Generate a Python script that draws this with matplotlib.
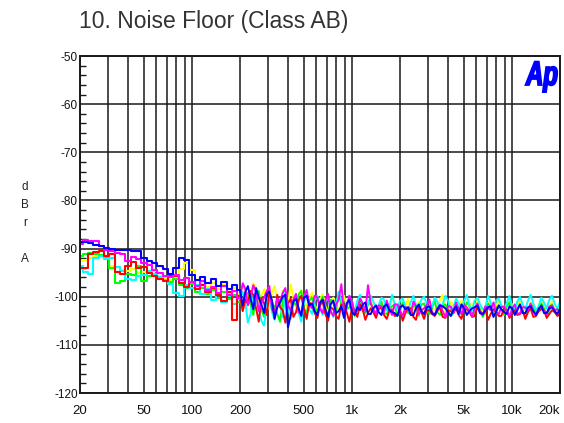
import matplotlib
matplotlib.use("Agg")
import matplotlib.pyplot as plt
from matplotlib.textpath import TextPath
from matplotlib.font_manager import FontProperties
from matplotlib.patches import PathPatch
from matplotlib.transforms import Affine2D

# ---------------- data ----------------
freq = [20, 21.6, 23.3, 25.2, 27.2, 29.4, 31.7, 34.2, 37.0, 39.9,
        43.1, 46.5, 50.2, 54.2, 58.6, 63.2, 68.3, 73.7, 79.6, 86.0,
        92.8, 100.2, 108.2, 116.9, 126.2, 136.2, 147.1, 158.9, 171.5, 185.2,
        200, 216, 233, 252, 272, 294, 317, 342, 370, 399,
        431, 465, 502, 542, 586, 632, 683, 737, 796, 860,
        928, 1002, 1082, 1169, 1262, 1362, 1471, 1589, 1715, 1852,
        2000, 2159, 2332, 2518, 2718, 2935, 3170, 3422, 3695, 3990,
        4309, 4652, 5024, 5424, 5857, 6324, 6828, 7373, 7961, 8596,
        9283, 10023, 10823, 11686, 12618, 13625, 14712, 15885, 17152, 18521,
        20000]
n_low = 31  # first points (20 Hz .. 200 Hz) are drawn as steps

# extra readings between the points above (200 Hz .. 20 kHz)
freq_mid = [208, 224, 242, 262, 283, 305, 329, 356, 384, 415,
            448, 483, 522, 564, 609, 657, 710, 766, 827, 893,
            965, 1042, 1125, 1215, 1312, 1417, 1530, 1652, 1784, 1926,
            2081, 2247, 2426, 2620, 2829, 3055, 3299, 3562, 3846, 4153,
            4485, 4843, 5229, 5646, 6097, 6584, 7109, 7677, 8290, 8951,
            9666, 10438, 11248, 12145, 13113, 14160, 15290, 16510, 17830, 19245]

blue = [-88.6, -88.6, -88.8, -89.3, -89.4, -89.8, -90.0, -90.3, -90.4, -90.4,
        -90.5, -90.6, -92.0, -92.6, -93.0, -93.6, -94.2, -95.2, -94.0, -92.0,
        -92.4, -95.5, -96.6, -96.0, -97.2, -96.4, -97.8, -97.0, -98.3, -97.6,
        -98.6,
        -99.0, -100.4, -98.2, -101.6, -99.4, -100.8, -102.2, -100.0, -106.4, -101.0,
        -102.4, -100.2, -101.8, -103.0,
        -101.2, -102.6, -101.6, -103.4, -102.0, -101.4, -103.2, -102.2, -101.6, -103.6,
        -102.4, -103.2, -102.0, -102.8, -103.4, -102.2, -102.6, -103.8, -102.4, -103.0,
        -102.2, -103.4, -102.6, -102.0, -103.2, -102.8, -103.6, -102.4, -103.0, -102.2,
        -103.4, -102.8, -102.0, -103.2, -102.6, -103.6, -102.4, -102.8, -103.4, -102.2,
        -103.0, -102.6, -103.4, -102.4, -103.0, -102.6]
blue_mid = [-101.8, -97.8, -102.6, -100.2, -103.4, -99.0, -104.6, -101.2, -99.6, -103.8,
            -100.4, -104.0, -99.8, -101.4,
            -103.8, -100.6, -104.2, -100.8, -103.0, -104.4, -100.6, -103.8, -102.8, -101.2,
            -103.6, -101.8, -103.8, -101.6, -103.2, -104.0, -101.8, -102.2, -103.8, -101.6,
            -103.6, -102.0, -103.8, -101.8, -102.4, -104.0, -102.0, -101.6, -103.8, -102.4,
            -101.8, -103.6, -102.2, -104.2, -101.8, -103.2, -102.0, -103.8, -101.6, -103.4,
            -102.0, -103.8, -101.8, -103.4, -102.2, -103.6]

magenta = [-89.0, -88.3, -88.4, -88.5, -89.5, -90.4, -90.6, -91.0, -91.2, -92.6,
           -91.8, -92.2, -93.0, -93.4, -94.4, -95.0, -95.8, -96.0, -95.5, -96.6,
           -96.2, -97.0, -97.8, -96.8, -98.6, -98.0, -99.2, -97.8, -99.6, -98.8,
           -100.2,
           -98.4, -100.2, -99.0, -101.4, -98.8, -102.6, -100.4, -99.2, -101.8, -100.6,
           -103.2, -100.0, -101.6, -99.8,
           -102.4, -100.8, -103.0, -101.6, -97.4, -102.2, -101.0, -102.8, -101.4, -97.6,
           -102.6, -101.8, -103.2, -102.4, -101.6, -103.0, -102.2, -103.6, -102.0, -102.8,
           -101.8, -103.2, -102.4, -103.0, -102.0, -103.4, -102.6, -101.8, -103.0, -102.4,
           -103.4, -102.0, -102.8, -103.2, -102.2, -103.0, -102.6, -103.6, -102.2, -102.8,
           -103.2, -102.4, -103.0, -102.0, -102.8, -103.2]
magenta_mid = [-97.2, -101.8, -97.6, -103.0, -100.2, -97.8, -103.4, -101.0, -98.2, -102.8,
               -99.4, -103.6, -98.6, -102.4,
               -100.2, -103.4, -99.4, -104.0, -100.6, -103.2, -99.8, -103.6, -100.4, -103.0,
               -101.4, -103.6, -102.0, -100.8, -103.8, -101.6, -104.0, -102.2, -101.0, -103.6,
               -102.4, -100.6, -103.8, -101.6, -104.2, -102.0, -101.2, -103.6, -102.2, -104.0,
               -101.4, -103.8, -102.4, -101.2, -103.6, -102.0, -104.0, -101.6, -103.4, -102.2,
               -101.4, -103.8, -102.0, -103.6, -101.8, -102.6]

red = [-94.0, -94.0, -91.2, -90.8, -90.6, -91.6, -91.2, -94.8, -95.2, -93.6,
       -92.8, -94.0, -93.8, -95.0, -95.6, -96.4, -96.8, -95.6, -95.8, -97.2,
       -98.0, -97.0, -98.4, -97.6, -99.0, -98.2, -99.6, -100.8, -99.0, -104.8,
       -99.8,
       -100.6, -98.8, -102.4, -100.2, -103.8, -101.0, -99.6, -102.8, -101.4, -104.2,
       -100.8, -102.6, -101.2, -103.4,
       -101.8, -103.6, -102.2, -104.0, -101.6, -103.2, -102.4, -104.2, -102.6, -103.4,
       -103.2, -102.6, -103.8, -103.0, -104.0, -102.8, -103.4, -102.4, -104.8, -103.2,
       -102.8, -103.6, -103.0, -104.2, -102.8, -103.4, -103.8, -102.6, -103.2, -104.0,
       -103.0, -102.6, -103.6, -103.2, -104.0, -102.8, -103.4, -103.8, -102.8, -103.2,
       -104.2, -103.0, -102.8, -103.6, -103.2, -103.6]
red_mid = [-103.0, -101.4, -99.6, -105.2, -101.4, -99.2, -104.4, -102.2, -105.4, -100.4,
           -103.2, -99.8, -104.6, -101.6,
           -104.4, -101.0, -105.0, -102.6, -104.6, -101.8, -105.2, -102.8, -101.6, -104.8,
           -102.4, -104.4, -102.2, -104.6, -102.6, -103.8, -105.0, -102.4, -104.2, -102.0,
           -104.6, -102.8, -104.0, -102.2, -104.4, -103.0, -102.4, -104.6, -102.6, -104.2,
           -102.2, -103.8, -104.8, -102.6, -104.0, -102.4, -104.4, -102.8, -103.6, -104.6,
           -102.4, -104.0, -102.6, -104.4, -102.8, -104.0]

green = [-91.6, -91.2, -91.0, -91.1, -91.4, -91.8, -94.0, -97.2, -96.8, -95.2,
         -95.4, -93.6, -96.8, -95.6, -95.4, -96.0, -95.6, -97.0, -96.4, -97.6,
         -98.2, -97.4, -99.0, -98.2, -99.4, -98.6, -100.2, -99.0, -100.4, -99.6,
         -101.0,
         -99.8, -101.6, -100.4, -102.8, -100.2, -101.4, -103.6, -100.8, -102.2, -101.0,
         -99.6, -102.4, -100.8, -102.0,
         -101.4, -102.8, -100.6, -103.2, -101.8, -102.6, -100.8, -102.0, -103.0, -101.6,
         -102.8, -102.0, -103.4, -102.4, -101.6, -103.0, -102.6, -103.4, -102.2, -101.6,
         -103.0, -102.4, -103.2, -102.0, -102.8, -103.4, -102.2, -102.8, -101.8, -103.2,
         -102.6, -103.0, -102.2, -103.4, -102.6, -102.0, -103.0, -102.4, -103.2, -102.6,
         -101.8, -103.0, -102.4, -102.8, -103.2, -102.6]
green_mid = [-102.4, -99.2, -103.8, -98.8, -104.2, -100.6, -102.0, -105.2, -99.8, -103.6,
             -101.8, -98.8, -103.4, -100.2,
             -103.6, -100.0, -104.2, -101.2, -99.0, -103.8, -102.2, -104.0, -100.8, -103.4,
             -101.4, -103.8, -101.0, -103.6, -102.0, -104.0, -101.2, -103.4, -101.8, -104.0,
             -101.4, -103.6, -100.8, -103.8, -101.6, -104.0, -102.0, -103.6, -101.2, -103.8,
             -101.6, -104.2, -101.4, -103.6, -101.8, -103.8, -101.2, -103.4, -101.6, -104.0,
             -102.0, -103.6, -101.4, -103.8, -101.6, -103.4]

yellow = [-92.6, -92.4, -92.0, -91.8, -91.8, -92.2, -93.6, -93.8, -94.4, -94.6,
          -94.2, -95.0, -94.8, -95.0, -94.6, -95.8, -96.2, -96.6, -96.0, -94.2,
          -93.0, -94.4, -96.6, -97.4, -98.0, -97.2, -98.4, -97.6, -99.4, -98.2,
          -99.6,
          -98.6, -100.0, -98.2, -99.8, -101.2, -99.0, -100.6, -98.8, -101.4, -100.2,
          -99.4, -101.0, -100.4, -101.8,
          -100.6, -102.0, -101.2, -102.4, -100.8, -101.8, -102.6, -101.0, -102.2, -101.6,
          -102.2, -101.6, -102.8, -102.0, -101.4, -102.6, -102.0, -103.0, -101.8, -102.4,
          -101.6, -102.8, -102.2, -99.6, -102.4, -101.8, -102.8, -102.2, -101.6, -102.6,
          -102.0, -103.0, -102.4, -101.8, -102.8, -102.2, -101.6, -102.6, -102.0, -102.8,
          -102.4, -101.8, -102.6, -102.2, -102.8, -102.0]
yellow_mid = [-97.6, -101.4, -97.2, -101.8, -98.4, -102.6, -97.8, -101.6, -99.6, -97.4,
              -102.2, -98.6, -102.0, -99.2,
              -102.6, -99.4, -103.2, -100.2, -102.8, -99.8, -100.6, -103.0, -100.0, -102.8,
              -100.8, -103.2, -101.0, -102.8, -100.6, -103.4, -101.2, -100.4, -102.8, -101.0,
              -103.0, -100.8, -102.6, -100.6, -103.2, -101.0, -102.8, -100.8, -103.0, -101.4,
              -100.6, -102.8, -101.2, -103.2, -100.8, -102.6, -101.0, -103.0, -100.6, -102.8,
              -101.2, -103.0, -100.8, -102.6, -101.0, -102.8]

cyan = [-93.6, -94.8, -95.2, -92.0, -91.6, -92.2, -92.0, -93.8, -94.6, -96.4,
        -96.6, -95.8, -95.4, -94.6, -95.2, -96.0, -96.6, -97.4, -99.2, -99.8,
        -97.6, -98.2, -97.6, -99.4, -98.4, -100.6, -99.4, -101.0, -99.8, -101.6,
        -100.4,
        -101.2, -103.6, -100.4, -105.0, -101.8, -103.2, -100.6, -104.2, -102.0, -100.8,
        -103.4, -101.2, -102.6, -100.8,
        -102.2, -101.0, -102.8, -101.4, -100.6, -102.4, -101.2, -100.8, -102.0, -101.4,
        -101.0, -101.8, -100.6, -102.2, -101.4, -100.8, -102.0, -101.2, -101.8, -100.6,
        -101.4, -102.0, -101.0, -101.6, -100.8, -102.2, -101.4, -101.0, -101.8, -100.8,
        -101.6, -102.2, -101.2, -100.8, -101.8, -101.4, -102.0, -101.0, -101.6, -100.8,
        -101.4, -102.0, -101.2, -100.6, -101.4, -101.0]
cyan_mid = [-99.0, -105.4, -99.8, -102.4, -106.0, -99.6, -104.8, -101.8, -98.8, -104.6,
            -100.2, -105.2, -99.6, -103.6,
            -99.8, -103.8, -100.0, -104.2, -99.2, -103.6, -99.8, -103.2, -99.6, -103.0,
            -99.8, -102.4, -100.2, -102.8, -99.6, -102.6, -100.4, -102.8, -99.8, -102.4,
            -100.0, -103.0, -100.2, -102.6, -99.8, -102.8, -100.4, -102.4, -99.6, -102.8,
            -100.2, -102.6, -99.8, -103.0, -100.4, -102.4, -99.8, -102.8, -100.0, -102.6,
            -99.6, -102.8, -100.2, -102.4, -99.8, -102.6]

series = [("yellow", yellow, yellow_mid, "#ffff00"),
          ("green", green, green_mid, "#00ff00"),
          ("cyan", cyan, cyan_mid, "#00ffff"),
          ("red", red, red_mid, "#ff0000"),
          ("magenta", magenta, magenta_mid, "#ff00ff"),
          ("blue", blue, blue_mid, "#0000ff")]

xtick_vals = [20, 50, 100, 200, 500, 1000, 2000, 5000, 10000, 20000]
xtick_labels = ["20", "50", "100", "200", "500", "1k", "2k", "5k", "10k", "20k"]
xgrid_vals = [20, 30, 40, 50, 60, 70, 80, 90,
              100, 200, 300, 400, 500, 600, 700, 800, 900,
              1000, 2000, 3000, 4000, 5000, 6000, 7000, 8000, 9000,
              10000, 20000]
ytick_vals = [-120, -110, -100, -90, -80, -70, -60, -50]
yminor_vals = [v for v in range(-118, -50, 2) if v % 10 != 0]

title = "10. Noise Floor (Class AB)"
ylabel = "d\nB\nr\n\nA"

# ---------------- figure ----------------
W, H = 564, 423
fig = plt.figure(figsize=(W / 100, H / 100), dpi=100)
fig.patch.set_facecolor("white")
ax = fig.add_axes([80 / W, 30 / H, 480 / W, 337 / H])
ax.set_xscale("log")
ax.set_xlim(20, 20000)
ax.set_ylim(-120, -50)

gridc = "#1a1a1a"
for f in xgrid_vals:
    ax.axvline(f, color=gridc, lw=1.1, zorder=1)
for v in ytick_vals:
    ax.axhline(v, color=gridc, lw=1.1, zorder=1)

for name, vals, mid, col in series:
    ax.plot(freq[:n_low], vals[:n_low], color=col, lw=1.5,
            drawstyle="steps-mid", zorder=3)
    hi = sorted(list(zip(freq[n_low - 1:], vals[n_low - 1:])) +
                list(zip(freq_mid, mid)))
    ax.plot([p[0] for p in hi], [p[1] for p in hi], color=col, lw=1.4,
            zorder=3)

ax.set_xticks(xtick_vals)
ax.set_xticklabels(xtick_labels)
ax.xaxis.set_minor_locator(matplotlib.ticker.NullLocator())
ax.set_yticks(ytick_vals)
ax.set_yticklabels([str(v) for v in ytick_vals])
ax.set_yticks(yminor_vals, minor=True)

ax.tick_params(axis="x", which="major", length=0, pad=8.5, labelsize=9.5,
               labelcolor="#111111")
ax.tick_params(axis="y", which="major", length=0, pad=1.5, labelsize=8.5,
               labelcolor="#111111")
ax.tick_params(axis="y", which="minor", direction="in", length=4.5, width=1.0,
               color=gridc, left=True, right=False)
for lab in ax.get_xticklabels() + ax.get_yticklabels():
    lab.set_family("Liberation Sans")
xl = ax.get_xticklabels()
xl[-1].set_horizontalalignment("right")
xl[-1].set_x(1.0)

for sp in ax.spines.values():
    sp.set_color(gridc)
    sp.set_linewidth(1.4)
    sp.set_zorder(5)

# title
fig.text(79 / W, 1 - 28 / H, title, ha="left", va="baseline",
         fontsize=16.5, color="#333333", family="Liberation Sans")

# y label (stacked letters)
fig.text(25 / W, 1 - 223 / H, ylabel, ha="center", va="center",
         multialignment="center", fontsize=8.5, linespacing=1.68,
         color="#222222", family="Liberation Sans")

# Ap logo
fp = FontProperties(family="Liberation Sans", weight="bold", style="italic")
tp = TextPath((0, 0), "Ap", size=1, prop=fp)
tr = Affine2D().scale(24, 34).translate(526, H - 85)
logo = PathPatch(tp, facecolor="#0000ff", edgecolor="#0000ff", lw=1.3,
                 zorder=10)
logo.set_transform(tr)
logo.set_figure(fig)
fig.patches.append(logo)

fig.savefig("out.png", dpi=100, facecolor="white")
